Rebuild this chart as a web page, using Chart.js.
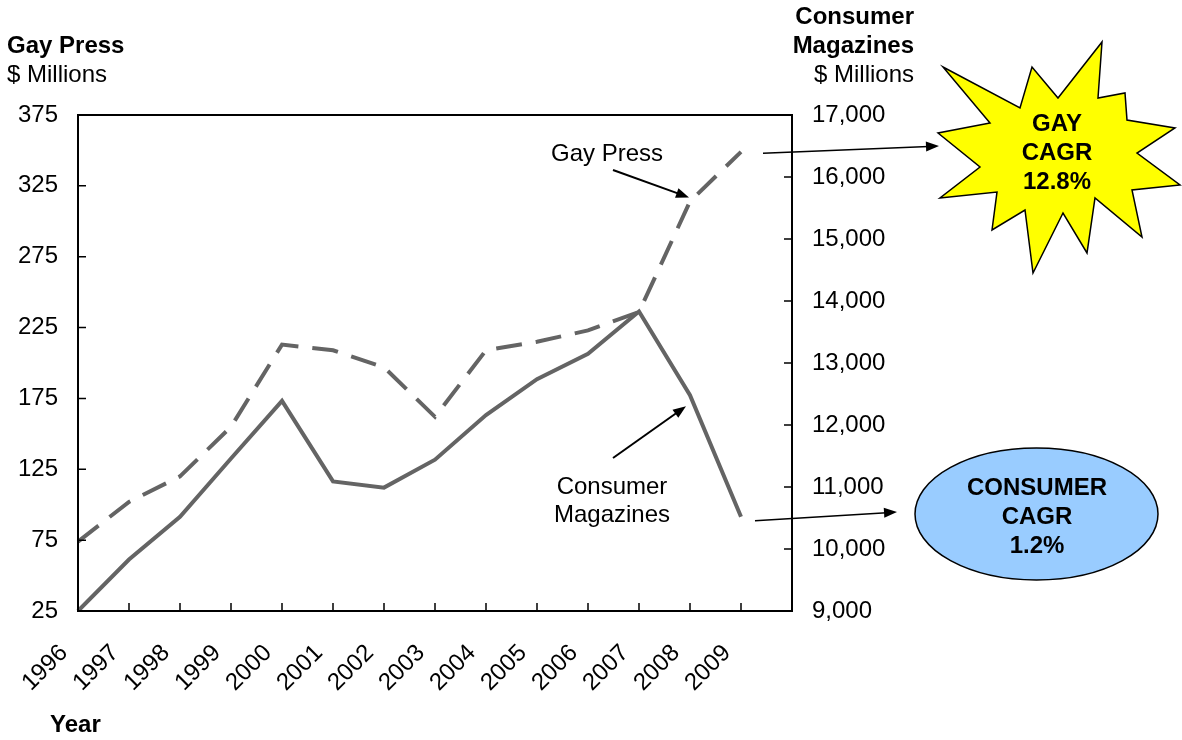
<!DOCTYPE html>
<html>
<head>
<meta charset="utf-8">
<title>Gay Press vs Consumer Magazines</title>
<script src="https://cdn.jsdelivr.net/npm/chart.js@4.4.1/dist/chart.umd.min.js"></script>
<style>
  html, body { margin: 0; padding: 0; background: #fff; }
  #wrap { position: relative; width: 1182px; height: 740px; }
</style>
</head>
<body>
<div id="wrap"><canvas id="chart" width="1182" height="740"></canvas></div>
<script>
// data
const years = ["1996", "1997", "1998", "1999", "2000", "2001", "2002", "2003", "2004", "2005", "2006", "2007", "2008", "2009"];
const gayPress = [74, 102, 120, 155, 213, 209, 197, 162, 209, 215, 223, 236, 314, 349];
const consumerMagazines = [9000, 9830, 10520, 11460, 12390, 11090, 10990, 11440, 12160, 12740, 13150, 13830, 12480, 10520];
const leftTicks = [25, 75, 125, 175, 225, 275, 325, 375];
const rightTicks = [9000, 10000, 11000, 12000, 13000, 14000, 15000, 16000, 17000];

const FONT = "'Liberation Sans', Arial, Helvetica, sans-serif";
const LINE_GRAY = "#646464";

Chart.defaults.font.family = FONT;
Chart.defaults.font.size = 24;
Chart.defaults.color = "#000";

// star outline for the "GAY CAGR" burst
const starPoints = [
  [943, 67], [1020, 108], [1032, 67], [1058, 98], [1102, 42], [1098, 98],
  [1125, 93], [1127, 120], [1175, 128], [1137, 153], [1180, 185], [1132, 190],
  [1142, 237], [1095, 198], [1087, 253], [1063, 213], [1033, 273], [1025, 210],
  [992, 230], [997, 192], [940, 198], [980, 167], [938, 133], [990, 123]
];

function arrow(ctx, x1, y1, x2, y2, head) {
  const ang = Math.atan2(y2 - y1, x2 - x1);
  ctx.beginPath();
  ctx.moveTo(x1, y1);
  ctx.lineTo(x2 - Math.cos(ang) * head * 0.8, y2 - Math.sin(ang) * head * 0.8);
  ctx.stroke();
  ctx.beginPath();
  ctx.moveTo(x2, y2);
  ctx.lineTo(x2 - head * Math.cos(ang) + 5 * Math.sin(ang), y2 - head * Math.sin(ang) - 5 * Math.cos(ang));
  ctx.lineTo(x2 - head * Math.cos(ang) - 5 * Math.sin(ang), y2 - head * Math.sin(ang) + 5 * Math.cos(ang));
  ctx.closePath();
  ctx.fill();
}

const overlay = {
  id: "overlay",
  afterDraw(chart) {
    const ctx = chart.ctx;
    const area = chart.chartArea;
    const xs = chart.scales.x;
    const yl = chart.scales.y;
    const yr = chart.scales.y1;
    const gay = chart.getDatasetMeta(0).data;
    const con = chart.getDatasetMeta(1).data;

    ctx.save();
    ctx.strokeStyle = "#000";
    ctx.fillStyle = "#000";

    // frame and inward tick marks
    ctx.lineWidth = 2;
    ctx.strokeRect(area.left, area.top, area.right - area.left, area.bottom - area.top);
    ctx.lineWidth = 1.5;
    ctx.beginPath();
    xs.ticks.forEach(function (t, i) {
      const px = xs.getPixelForTick(i);
      ctx.moveTo(px, area.bottom);
      ctx.lineTo(px, area.bottom - 8);
    });
    yl.ticks.forEach(function (t, i) {
      const py = yl.getPixelForTick(i);
      ctx.moveTo(area.left, py);
      ctx.lineTo(area.left + 8, py);
    });
    yr.ticks.forEach(function (t, i) {
      const py = yr.getPixelForTick(i);
      ctx.moveTo(area.right, py);
      ctx.lineTo(area.right - 8, py);
    });
    ctx.stroke();

    // axis titles
    ctx.textBaseline = "middle";
    ctx.textAlign = "left";
    ctx.font = "bold 24px " + FONT;
    ctx.fillText("Gay Press", 7, 46);
    ctx.fillText("Year", 50, 725);
    ctx.font = "24px " + FONT;
    ctx.fillText("$ Millions", 7, 75);
    ctx.textAlign = "right";
    ctx.font = "bold 24px " + FONT;
    ctx.fillText("Consumer", 914, 17);
    ctx.fillText("Magazines", 914, 46);
    ctx.font = "24px " + FONT;
    ctx.fillText("$ Millions", 914, 75);

    // series callouts
    ctx.textAlign = "center";
    ctx.fillText("Gay Press", 607, 154);
    ctx.fillText("Consumer", 612, 487);
    ctx.fillText("Magazines", 612, 515);

    ctx.lineWidth = 2;
    const g8 = gay[12], g9 = gay[13], c8 = con[12], c9 = con[13];
    arrow(ctx, 613, 170, g8.x - 1, g8.y - 4, 13);
    arrow(ctx, 613, 458, c8.x - 4, c8.y + 11, 13);
    ctx.lineWidth = 1.5;
    arrow(ctx, g9.x + 22, g9.y + 1.5, 939, 146, 13);
    arrow(ctx, c9.x + 14, c9.y + 4, 897, 512, 13);

    // yellow burst
    ctx.beginPath();
    starPoints.forEach(function (p, i) {
      if (i === 0) ctx.moveTo(p[0], p[1]); else ctx.lineTo(p[0], p[1]);
    });
    ctx.closePath();
    ctx.fillStyle = "#ffff00";
    ctx.fill();
    ctx.lineWidth = 1.5;
    ctx.stroke();

    // blue ellipse
    ctx.beginPath();
    ctx.ellipse(1036.5, 514, 121.5, 66, 0, 0, Math.PI * 2);
    ctx.fillStyle = "#99ccff";
    ctx.fill();
    ctx.stroke();

    ctx.fillStyle = "#000";
    ctx.font = "bold 24px " + FONT;
    ctx.fillText("GAY", 1057, 124);
    ctx.fillText("CAGR", 1057, 153);
    ctx.fillText("12.8%", 1057, 182);
    ctx.fillText("CONSUMER", 1037, 488);
    ctx.fillText("CAGR", 1037, 517);
    ctx.fillText("1.2%", 1037, 546);
    ctx.restore();
  }
};

new Chart(document.getElementById("chart"), {
  type: "line",
  data: {
    // one empty slot after 2009 so the plot runs on past the last year
    labels: years.concat([""]),
    datasets: [
      {
        label: "Gay Press",
        data: gayPress,
        yAxisID: "y",
        borderColor: LINE_GRAY,
        borderWidth: 4,
        borderDash: [26, 14],
        borderCapStyle: "butt",
        pointRadius: 0,
        tension: 0
      },
      {
        label: "Consumer Magazines",
        data: consumerMagazines,
        yAxisID: "y1",
        borderColor: LINE_GRAY,
        borderWidth: 4,
        pointRadius: 0,
        tension: 0
      }
    ]
  },
  options: {
    responsive: false,
    animation: false,
    layout: { padding: { left: 0, right: 0, top: 115, bottom: 0 } },
    plugins: {
      legend: { display: false },
      tooltip: { enabled: false }
    },
    scales: {
      x: {
        type: "category",
        offset: false,
        grid: { display: false, drawTicks: false },
        border: { display: false },
        ticks: {
          autoSkip: false,
          minRotation: 45,
          maxRotation: 45,
          padding: 28,
          labelOffset: -14,
          font: { size: 24 }
        },
        afterFit: function (scale) { scale.height = 129; }
      },
      y: {
        position: "left",
        min: leftTicks[0],
        max: leftTicks[leftTicks.length - 1],
        grid: { display: false, drawTicks: false },
        border: { display: false },
        afterBuildTicks: function (scale) {
          scale.ticks = leftTicks.map(function (v) { return { value: v }; });
        },
        ticks: { padding: 20, font: { size: 24 } },
        afterFit: function (scale) { scale.width = 78; }
      },
      y1: {
        position: "right",
        min: rightTicks[0],
        max: rightTicks[rightTicks.length - 1],
        grid: { display: false, drawTicks: false },
        border: { display: false },
        afterBuildTicks: function (scale) {
          scale.ticks = rightTicks.map(function (v) { return { value: v }; });
        },
        ticks: {
          padding: 20,
          font: { size: 24 },
          callback: function (v) { return Number(v).toLocaleString("en-US"); }
        },
        afterFit: function (scale) { scale.width = 390; }
      }
    }
  },
  plugins: [overlay]
});
</script>
</body>
</html>
